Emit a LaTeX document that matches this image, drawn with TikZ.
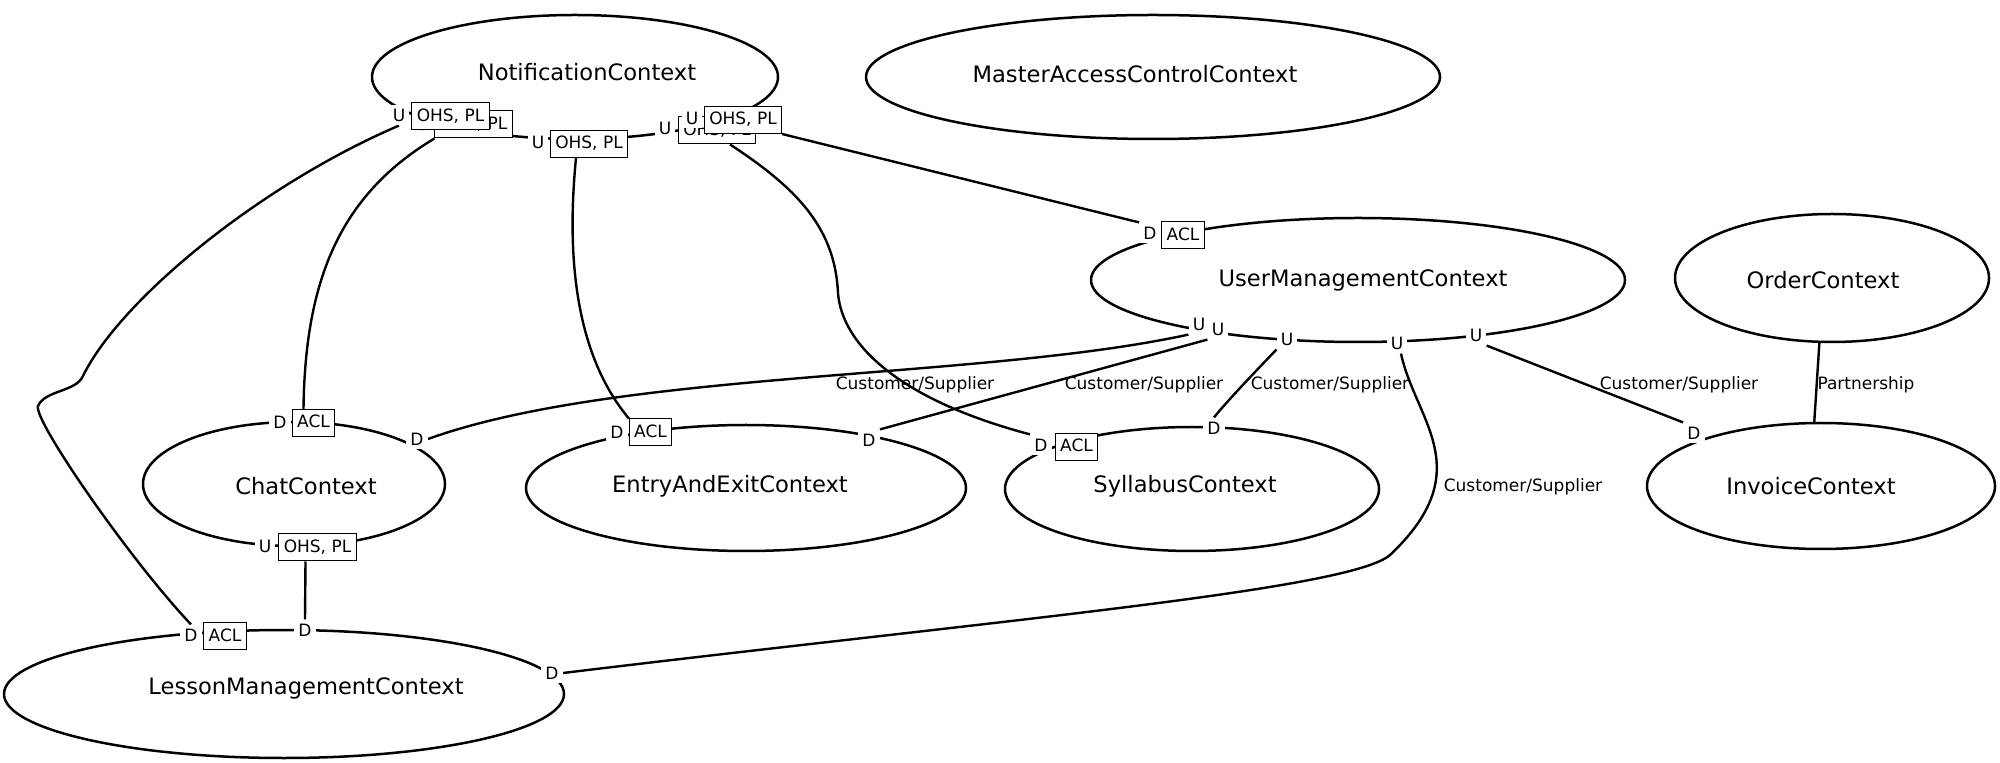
\documentclass[tikz,border=0pt]{standalone}
\usepackage{fontspec}
\setmainfont{DejaVu Sans}
\usetikzlibrary{shapes.geometric}
\pgfdeclarelayer{edges}
\pgfsetlayers{edges,main}
\begin{document}
\begin{tikzpicture}[x=0.5pt,y=-0.5pt,
  ctx/.style={ellipse, draw, line width=1.25pt, inner sep=0pt},
  ctxlab/.style={font=\fontsize{11.3}{13}\selectfont, inner sep=0pt},
  port/.style={fill=white, inner sep=2pt, font=\fontsize{8.5}{10}\selectfont, text height=6.2pt, text depth=0pt},
  pbox/.style={draw, line width=0.5pt, fill=white, inner xsep=2.4pt, inner ysep=2.75pt, text height=6.5pt, text depth=1.5pt, font=\fontsize{8.5}{10}\selectfont},
  lab/.style={font=\fontsize{8.5}{10}\selectfont, inner sep=0pt},
  edge/.style={line width=1.2pt}
]
\useasboundingbox (0,0) rectangle (2000,763);

% contexts
\node[ctx, minimum width=203pt, minimum height=62pt, label={[ctxlab, shift={(6pt,2.5pt)}]center:NotificationContext}] (notif) at (575,77) {};
\node[ctx, minimum width=287pt, minimum height=62pt, label={[ctxlab, shift={(-9pt,1.5pt)}]center:MasterAccessControlContext}] (master) at (1153,77) {};
\node[ctx, minimum width=267pt, minimum height=62pt, label={[ctxlab, shift={(2.5pt,0pt)}]center:UserManagementContext}] (user) at (1358,280) {};
\node[ctx, minimum width=157pt, minimum height=64pt, label={[ctxlab, shift={(-4.5pt,-1pt)}]center:OrderContext}] (order) at (1832,278) {};
\node[ctx, minimum width=151pt, minimum height=62pt, label={[ctxlab, shift={(6pt,-1pt)}]center:ChatContext}] (chat) at (294,484) {};
\node[ctx, minimum width=220pt, minimum height=63pt, label={[ctxlab, shift={(-8pt,1pt)}]center:EntryAndExitContext}] (entry) at (746,488) {};
\node[ctx, minimum width=187pt, minimum height=62pt, label={[ctxlab, shift={(-3.5pt,1.5pt)}]center:SyllabusContext}] (syllabus) at (1192,489) {};
\node[ctx, minimum width=174pt, minimum height=63pt, label={[ctxlab, shift={(-5pt,0pt)}]center:InvoiceContext}] (invoice) at (1821,486) {};
\node[ctx, minimum width=280pt, minimum height=64pt, label={[ctxlab, shift={(11pt,3pt)}]center:LessonManagementContext}] (lesson) at (284,694) {};

% Notification ports
\node[port] (nUB) at (422,124) {U};
\node[pbox] (nBB) at (473.5,124.5) {OHS, PL};
\node[port] (nUA) at (399,115) {U};
\node[pbox] (nBA) at (450.5,116.5) {OHS, PL};
\node[port] (nUC) at (538,142) {U};
\node[pbox] (nBC) at (589,144) {OHS, PL};
\node[port] (nUD) at (665,128) {U};
\node[pbox] (nBD) at (717,130.5) {OHS, PL};
\node[port] (nUE) at (692,118) {U};
\node[pbox] (nBE) at (743,120) {OHS, PL};

% UserManagement ports
\node[port] (uD) at (1150,233) {D};
\node[pbox] (uACL) at (1183,235.5) {ACL};
\node[port] (u1) at (1199,324) {U};
\node[port] (u2) at (1218,329) {U};
\node[port] (u3) at (1287,339) {U};
\node[port] (u4) at (1397,343) {U};
\node[port] (u5) at (1476,335) {U};

% Chat ports
\node[port] (cD1) at (280,422) {D};
\node[pbox] (cACL) at (313.5,423) {ACL};
\node[port] (cD2) at (417,439) {D};
\node[port] (cU) at (265,546) {U};
\node[pbox] (cOHS) at (317.5,547.5) {OHS, PL};

% EntryAndExit ports
\node[port] (eD1) at (617,432) {D};
\node[pbox] (eACL) at (650.5,432.5) {ACL};
\node[port] (eD2) at (869,440) {D};

% Syllabus ports
\node[port] (sD1) at (1041,445) {D};
\node[pbox] (sACL) at (1076.5,447) {ACL};
\node[port] (sD2) at (1214,428) {D};

% Invoice port
\node[port] (iD) at (1694,433) {D};

% Lesson ports
\node[port] (lD1) at (191,635) {D};
\node[pbox] (lACL) at (225,636) {ACL};
\node[port] (lD2) at (305,630) {D};
\node[port] (lD3) at (552,673) {D};

% relationship labels
\node[lab] (cs1) at (915,385) {Customer/Supplier};
\node[lab] (cs2) at (1144,385) {Customer/Supplier};
\node[lab] (cs3) at (1330,385) {Customer/Supplier};
\node[lab] (cs4) at (1679,385) {Customer/Supplier};
\node[lab] (cs5) at (1523,487) {Customer/Supplier};
\node[lab] (part) at (1866,385) {Partnership};

\begin{pgfonlayer}{edges}
% Notification -> Lesson
\draw[edge] (nUA.south) .. controls (260,185) and (120,300) .. (83,376)
  .. controls (76,392) and (45,390) .. (38,406)
  .. controls (33,420) and (130,560) .. (lD1.north);
% Notification -> Chat
\draw[edge] (nBB.south west) .. controls (340,195) and (305,280) .. ([xshift=-5pt]cACL.north);
% Notification -> EntryAndExit
\draw[edge] ([xshift=-6.5pt]nBC.south) .. controls (565,270) and (580,360) .. (eACL.north west);
% Notification -> Syllabus
\draw[edge] ([xshift=6.5pt]nBD.south) .. controls (800,190) and (835,230) .. (838,293)
  .. controls (842,345) and (900,400) .. (sD1.north west);
% Notification -> UserManagement
\draw[edge] (nBE.south east) -- (uD.north west);
% UserManagement -> Chat
\draw[edge] (u1.south west) .. controls (980,380) and (620,370) .. (cD2.east);
% UserManagement -> EntryAndExit
\draw[edge] (u2.south west) -- (eD2.north east);
% UserManagement -> Syllabus
\draw[edge] (u3.south west) .. controls (1255,372) and (1228,400) .. (sD2.north);
% UserManagement -> Lesson
\draw[edge] ([xshift=2pt]u4.south) .. controls (1415,420) and (1480,470) .. (1390,555)
  .. controls (1350,590) and (1000,620) .. (lD3.east);
% UserManagement -> Invoice
\draw[edge] (u5.south east) -- (iD.north west);
% Order -- Invoice
\draw[edge] (order.259) -- (invoice.96);
% Chat -> Lesson
\draw[edge] ([xshift=-6pt]cOHS.south) -- (lD2.north);
\end{pgfonlayer}
\end{tikzpicture}
\end{document}
